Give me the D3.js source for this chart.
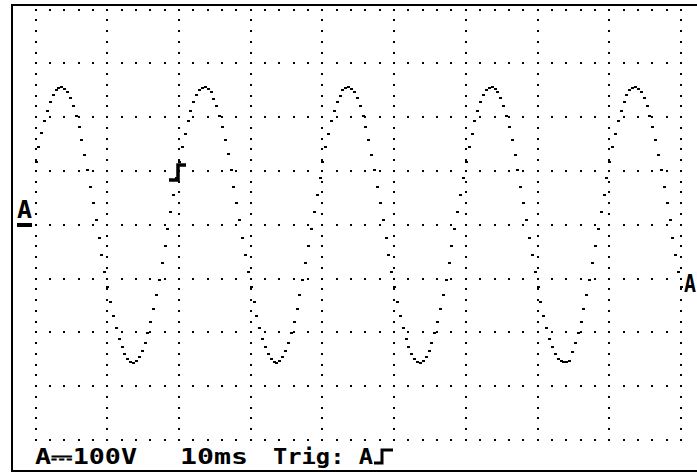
<!DOCTYPE html>
<html>
<head>
<meta charset="utf-8">
<script src="https://cdn.jsdelivr.net/npm/d3@7"></script>
<style>
html,body{margin:0;padding:0;background:#fff;}
svg{display:block;}
</style>
</head>
<body>
<script>
const timeDomainMs = [0, 90];          // 9 divisions x 10 ms
const voltDomain = [-400, 400];        // 8 divisions x 100 V
const timeDivMs = 10;
const voltDiv = 100;
const sampleStepMs = 0.4;
const channelLabel = "A⎓100V";
const timebaseLabel = "10ms";
const triggerLabel = "Trig: A";
const triggerLevelV = 100;
const triggerTimeMs = 19.8;
// sampled trace (V), one value per sample step
const traceV = [
116,144,170,192,211,228,241,250,254,256,253,246,235,221,202,181,157,130,102,71,40,8,-24,-56,-87,-116,-144,-169,-192,-212,-228,-241,-250,-255,-256,-253,-246,-235,-220,-202,-181,-157,-130,-102,-71,-40,-8,24,56,87,
117,145,169,192,212,228,241,250,255,256,253,246,234,220,202,181,157,131,102,71,40,8,-24,-56,-87,-116,-144,-169,-192,-212,-228,-241,-250,-255,-256,-253,-246,-235,-220,-202,-181,-157,-130,-102,-71,-40,-8,24,56,87,
116,144,169,192,212,228,240,250,255,256,253,246,235,220,202,181,157,130,102,71,41,8,-24,-56,-87,-116,-144,-169,-192,-212,-228,-241,-250,-255,-256,-253,-246,-235,-220,-202,-181,-157,-130,-102,-71,-40,-8,24,56,87,
116,144,169,192,212,228,241,250,255,256,253,246,235,220,202,181,157,130,102,71,40,8,-24,-56,-87,-116,-144,-169,-192,-212,-228,-241,-250,-254,-255,-255,-254,-236,-220,-202,-181,-157,-130,-102,-71,-40,-8,24,56,87,
116,144,169,192,212,228,241,250,255,256,253,246,235,220,202,181,157,130,102,71,40,8,-24,-56,-87,-116
];

const W = 697, H = 473;
const svg = d3.select("body").append("svg").attr("width", W).attr("height", H)
  .attr("shape-rendering", "crispEdges");
svg.append("rect").attr("width", W).attr("height", H).attr("fill", "#fff");

const x = d3.scaleLinear().domain(timeDomainMs).range([35.5, 681]);
const y = d3.scaleLinear().domain(voltDomain).range([440, 9.5]);

// frame
svg.append("rect").attr("x", 12).attr("y", 5).attr("width", 692).attr("height", 466)
  .attr("fill", "none").attr("stroke", "#000").attr("stroke-width", 2);

// dotted graticule
const g = svg.append("g").attr("fill", "#000");
const hLines = d3.range(voltDomain[0], voltDomain[1] + 1, voltDiv);
const vLines = d3.range(timeDomainMs[0], timeDomainMs[1] + 0.001, timeDivMs);
const hDots = d3.range(timeDomainMs[0], timeDomainMs[1] + 0.001, timeDivMs / 5);
const vDots = d3.range(voltDomain[0], voltDomain[1] + 1, voltDiv / 5);
const dots = [];
hLines.forEach(v => hDots.forEach(t => dots.push([x(t), y(v)])));
vLines.forEach(t => vDots.forEach(v => dots.push([x(t), y(v)])));
g.selectAll("rect.gd").data(dots).join("rect").attr("class", "gd")
  .attr("x", d => Math.round(d[0] - 1)).attr("y", d => Math.round(d[1] - 1))
  .attr("width", 2).attr("height", 2);

// trace (dot mode)
const samples = traceV.map((v, i) => ({t: i * sampleStepMs, v}));
svg.append("g").attr("fill", "#000").selectAll("rect").data(samples).join("rect")
  .attr("x", d => Math.round(x(d.t) - 1)).attr("y", d => Math.round(y(d.v) - 1))
  .attr("width", 2.5).attr("height", 2);

// trigger marker on screen
const tx = Math.round(x(triggerTimeMs)), ty = Math.round(y(triggerLevelV));
svg.append("path")
  .attr("d", `M${tx - 9},${ty + 9} H${tx} V${ty - 6} H${tx + 8}`)
  .attr("fill", "none").attr("stroke", "#000").attr("stroke-width", 3.5)
  .attr("shape-rendering", "auto");

// channel A ground marker (left) and right marker
const font = "'DejaVu Sans Mono', monospace";
svg.append("text").attr("x", 17).attr("y", 218).text("A")
  .attr("font-family", font).attr("font-weight", "bold").attr("font-size", 24)
  .attr("textLength", 15).attr("lengthAdjust", "spacingAndGlyphs");
svg.append("rect").attr("x", 17).attr("y", 223).attr("width", 15).attr("height", 4).attr("fill", "#000");
svg.append("text").attr("x", 684).attr("y", 292).text("A")
  .attr("font-family", font).attr("font-weight", "bold").attr("font-size", 24)
  .attr("textLength", 12).attr("lengthAdjust", "spacingAndGlyphs");

// status line
const status = [
  {text: channelLabel, x: 35, len: 102},
  {text: timebaseLabel, x: 180, len: 68},
  {text: triggerLabel, x: 273, len: 100}
];
svg.selectAll("text.st").data(status).join("text").attr("class", "st")
  .attr("x", d => d.x).attr("y", 464).text(d => d.text)
  .attr("font-family", font).attr("font-weight", "bold").attr("font-size", 21)
  .attr("textLength", d => d.len).attr("lengthAdjust", "spacingAndGlyphs");
svg.append("path")
  .attr("d", "M374,463 H382 V450 H393")
  .attr("fill", "none").attr("stroke", "#000").attr("stroke-width", 3)
  .attr("shape-rendering", "auto");
</script>
</body>
</html>
